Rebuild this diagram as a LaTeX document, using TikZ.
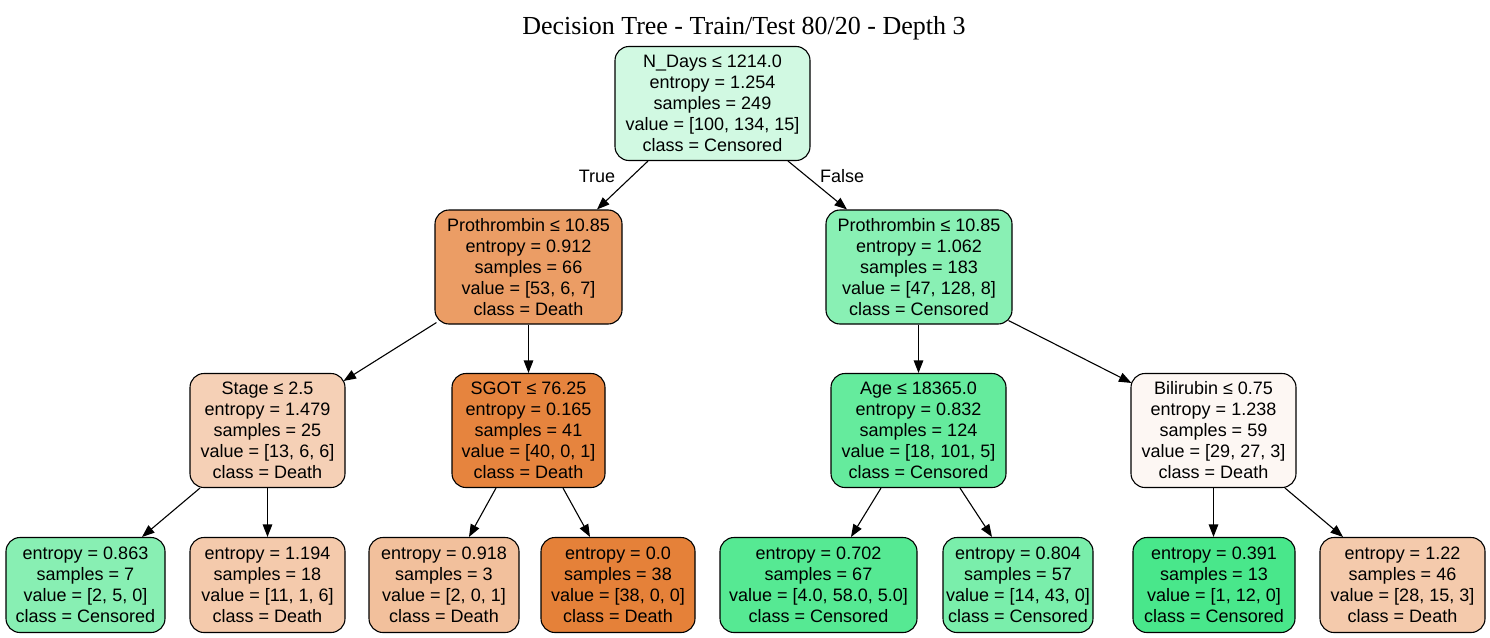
\documentclass[tikz,border=0pt]{standalone}
\usepackage{fontspec}
\setmainfont{Liberation Sans}
\newfontfamily\titlefont{Liberation Serif}
\usetikzlibrary{arrows.meta}
\definecolor{death}{RGB}{229,129,57}
\definecolor{cens}{RGB}{57,229,129}
\begin{document}
\begin{tikzpicture}[x=1pt,y=-1pt,
  box/.style={draw=black, line width=1.1pt, rounded corners=14pt, align=center,
    font=\fontsize{18}{21}\selectfont, inner sep=0pt},
  inner/.style={box, minimum height=114pt},
  leaf/.style={box, minimum height=95pt},
  arr/.style={-{Triangle[length=12.5pt,width=9.5pt]}, line width=1.1pt},
  lbl/.style={font=\fontsize{18}{21}\selectfont, inner sep=0pt}]
\useasboundingbox (0,0) rectangle (1490,637);
\fill[white] (0,0) rectangle (1490,637);

\node[font=\titlefont\fontsize{26}{30}\selectfont, inner sep=0pt] (title) at (744,28) {Decision Tree - Train/Test 80/20 - Depth 3};

\node[inner, fill=cens!23!white, minimum width=195pt] (root) at (712.5,103.5)
  {N\_Days ≤ 1214.0\\entropy = 1.254\\samples = 249\\value = [100, 134, 15]\\class = Censored};

\node[inner, fill=death!78!white, minimum width=187pt] (lp) at (528.5,267)
  {Prothrombin ≤ 10.85\\entropy = 0.912\\samples = 66\\value = [53, 6, 7]\\class = Death};
\node[inner, fill=cens!59.5!white, minimum width=186pt] (rp) at (919,267)
  {Prothrombin ≤ 10.85\\entropy = 1.062\\samples = 183\\value = [47, 128, 8]\\class = Censored};

\node[inner, fill=death!37!white, minimum width=155pt] (stage) at (267.5,430.5)
  {Stage ≤ 2.5\\entropy = 1.479\\samples = 25\\value = [13, 6, 6]\\class = Death};
\node[inner, fill=death!97.5!white, minimum width=153pt] (sgot) at (528.5,430.5)
  {SGOT ≤ 76.25\\entropy = 0.165\\samples = 41\\value = [40, 0, 1]\\class = Death};
\node[inner, fill=cens!78!white, minimum width=175pt] (age) at (918.5,430.5)
  {Age ≤ 18365.0\\entropy = 0.832\\samples = 124\\value = [18, 101, 5]\\class = Censored};
\node[inner, fill=death!6!white, minimum width=165pt] (bili) at (1213.5,430.5)
  {Bilirubin ≤ 0.75\\entropy = 1.238\\samples = 59\\value = [29, 27, 3]\\class = Death};

\node[leaf, fill=cens!60!white, minimum width=159pt] (l1) at (85.5,585)
  {entropy = 0.863\\samples = 7\\value = [2, 5, 0]\\class = Censored};
\node[leaf, fill=death!42!white, minimum width=155pt] (l2) at (267.5,585)
  {entropy = 1.194\\samples = 18\\value = [11, 1, 6]\\class = Death};
\node[leaf, fill=death!50!white, minimum width=150pt] (l3) at (444,585)
  {entropy = 0.918\\samples = 3\\value = [2, 0, 1]\\class = Death};
\node[leaf, fill=death, minimum width=154pt] (l4) at (618,585)
  {entropy = 0.0\\samples = 38\\value = [38, 0, 0]\\class = Death};
\node[leaf, fill=cens!85.5!white, minimum width=197pt] (l5) at (818.5,585)
  {entropy = 0.702\\samples = 67\\value = [4.0, 58.0, 5.0]\\class = Censored};
\node[leaf, fill=cens!67!white, minimum width=150pt] (l6) at (1018,585)
  {entropy = 0.804\\samples = 57\\value = [14, 43, 0]\\class = Censored};
\node[leaf, fill=cens!92!white, minimum width=162pt] (l7) at (1214,585)
  {entropy = 0.391\\samples = 13\\value = [1, 12, 0]\\class = Censored};
\node[leaf, fill=death!42!white, minimum width=165pt] (l8) at (1402.5,585)
  {entropy = 1.22\\samples = 46\\value = [28, 15, 3]\\class = Death};

\draw[arr] ([xshift=-64.5pt]root.south) -- ([xshift=68.5pt]lp.north);
\draw[arr] ([xshift=75.5pt]root.south) -- ([xshift=-72pt]rp.north);
\node[lbl] (ltrue) at (597,176.5) {True};
\node[lbl] (lfalse) at (842,176.5) {False};

\draw[arr] ([shift={(2pt,2pt)}]lp.south west) -- ([shift={(-2pt,-8pt)}]stage.north east);
\draw[arr] (sgot.north |- lp.south) -- (sgot.north);
\draw[arr] (age.north |- rp.south) -- (age.north);
\draw[arr] ([shift={(-4pt,4pt)}]rp.south east) -- ([shift={(1pt,-10pt)}]bili.north west);

\draw[arr] ([xshift=-67.5pt]stage.south) -- ([xshift=56.5pt]l1.north);
\draw[arr] (stage.south) -- (l2.north);
\draw[arr] ([xshift=-32.5pt]sgot.south) -- ([xshift=25pt]l3.north);
\draw[arr] ([xshift=34.5pt]sgot.south) -- ([xshift=-28pt]l4.north);
\draw[arr] ([xshift=-37.5pt]age.south) -- ([xshift=32.5pt]l5.north);
\draw[arr] ([xshift=41.5pt]age.south) -- ([xshift=-26pt]l6.north);
\draw[arr] (bili.south) -- (bili.south |- l7.north);
\draw[arr] ([xshift=71.5pt]bili.south) -- ([xshift=-59.5pt]l8.north);
\end{tikzpicture}
\end{document}
